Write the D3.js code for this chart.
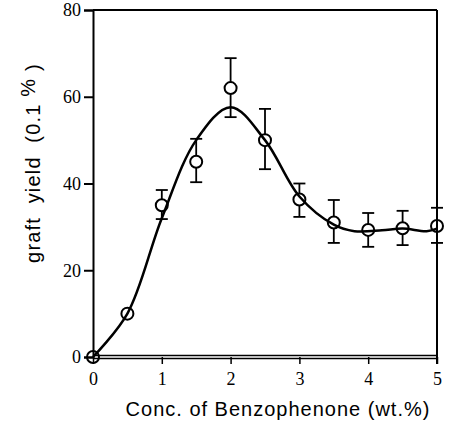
<!DOCTYPE html>
<html>
<head>
<meta charset="utf-8">
<script src="https://cdn.jsdelivr.net/npm/d3@7"></script>
<style>
  body { margin: 0; background: #fff; }
  svg { display: block; }
  .tick text { font-family: "Times New Roman", "Liberation Serif", Times, serif !important; }
</style>
</head>
<body>
<svg id="chart"></svg>
<script>
// measured points
const conc = [0, 0.5, 1, 1.5, 2, 2.5, 3, 3.5, 4, 4.5, 5];
const yieldVals = [0, 10, 35, 45, 62, 50, 36.3, 31, 29.3, 29.7, 30.2];
const errHigh = [null, null, 38.5, 50.3, 68.9, 57.2, 40, 36.2, 33.2, 33.7, 34.4];
const errLow = [null, null, 31.8, 40.3, 55.3, 43.3, 32.3, 26.3, 25.4, 25.8, 26.3];

// fitted curve
const fitX = [0, 0.5, 1, 1.5, 2, 2.5, 3, 3.5, 3.8, 4.2, 4.5, 4.85, 5];
const fitY = [0, 10, 32, 50, 57.6, 50, 37, 30.5, 29, 29.2, 29.6, 29, 29.6];

const xTicks = [0, 1, 2, 3, 4, 5];
const yTicks = [0, 20, 40, 60, 80];

const width = 449, height = 441;
const margin = {top: 10, right: 12, bottom: 84, left: 93};

const svg = d3.select("#chart")
    .attr("width", width)
    .attr("height", height);

const x = d3.scaleLinear().domain([0, 5]).range([margin.left, width - margin.right]);
const y = d3.scaleLinear().domain([0, 80]).range([height - margin.bottom, margin.top]);

const serif = "Times New Roman";
const sans = "Liberation Sans";

// left axis
const yAxis = svg.append("g")
    .attr("transform", `translate(${x(0)},0)`)
    .call(d3.axisLeft(y).tickValues(yTicks).tickFormat(d3.format("d")).tickSize(9).tickPadding(3))
    .attr("font-family", serif)
    .attr("font-size", 18);
yAxis.select(".domain").attr("stroke-width", 2);
yAxis.selectAll(".tick line").attr("stroke-width", 2);
yAxis.selectAll(".tick text").attr("fill", "#000");

// bottom axis
const xAxis = svg.append("g")
    .attr("transform", `translate(0,${y(0)})`)
    .call(d3.axisBottom(x).tickValues(xTicks).tickFormat(d3.format("d")).tickSize(7).tickPadding(8))
    .attr("font-family", serif)
    .attr("font-size", 18);
xAxis.select(".domain").remove();
xAxis.selectAll(".tick line").attr("stroke-width", 1.5);
xAxis.selectAll(".tick text").attr("fill", "#000");

// double baseline
[-1.5, 1.5].forEach(off => {
    svg.append("line")
        .attr("x1", x(0)).attr("x2", x(5))
        .attr("y1", y(0) + off).attr("y2", y(0) + off)
        .attr("stroke", "#000").attr("stroke-width", 1.3);
});

// top and right border
svg.append("line")
    .attr("x1", x(0)).attr("x2", x(5))
    .attr("y1", y(80)).attr("y2", y(80))
    .attr("stroke", "#000").attr("stroke-width", 2);
svg.append("line")
    .attr("x1", x(5)).attr("x2", x(5))
    .attr("y1", y(80)).attr("y2", y(0) + 7)
    .attr("stroke", "#000").attr("stroke-width", 2);

// fitted curve
const line = d3.line()
    .x((d, i) => x(fitX[i]))
    .y(d => y(d))
    .curve(d3.curveCatmullRom.alpha(0.5));

svg.append("path")
    .attr("d", line(fitY))
    .attr("fill", "none")
    .attr("stroke", "#000")
    .attr("stroke-width", 2.5);

// error bars
const r = 6;
const capW = 6;
conc.forEach((c, i) => {
    if (errHigh[i] === null) return;
    const cx = x(c);
    const g = svg.append("g").attr("stroke", "#000").attr("stroke-width", 1.8);
    g.append("line").attr("x1", cx).attr("x2", cx)
        .attr("y1", y(yieldVals[i]) - r).attr("y2", y(errHigh[i]));
    g.append("line").attr("x1", cx - capW).attr("x2", cx + capW)
        .attr("y1", y(errHigh[i])).attr("y2", y(errHigh[i]));
    g.append("line").attr("x1", cx).attr("x2", cx)
        .attr("y1", y(yieldVals[i]) + r).attr("y2", y(errLow[i]));
    g.append("line").attr("x1", cx - capW).attr("x2", cx + capW)
        .attr("y1", y(errLow[i])).attr("y2", y(errLow[i]));
});

// data points
svg.selectAll("circle.pt")
    .data(conc)
    .join("circle")
    .attr("class", "pt")
    .attr("cx", d => x(d))
    .attr("cy", (d, i) => y(yieldVals[i]))
    .attr("r", r)
    .attr("fill", "none")
    .attr("stroke", "#000")
    .attr("stroke-width", 2);

// axis titles
const yTitle = svg.append("text")
    .attr("transform", "translate(40,163) rotate(-90)")
    .attr("text-anchor", "middle")
    .style("white-space", "pre")
    .style("font-family", sans)
    .style("font-size", "20px")
    .style("letter-spacing", "1.2px")
    .attr("fill", "#000");
yTitle.append("tspan").text("graft  yield  (0.1 ");
yTitle.append("tspan").attr("dy", -5).text("%");
yTitle.append("tspan").attr("dy", 5).text(" )");

svg.append("text")
    .attr("x", 278)
    .attr("y", 416)
    .attr("text-anchor", "middle")
    .style("font-family", sans)
    .style("font-size", "20px")
    .style("letter-spacing", "1px")
    .attr("fill", "#000")
    .text("Conc. of Benzophenone (wt.%)");
</script>
</body>
</html>
